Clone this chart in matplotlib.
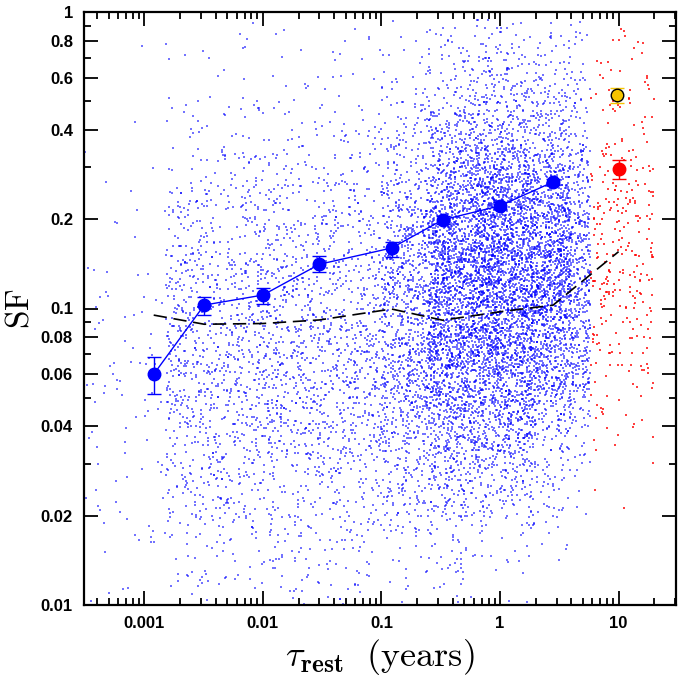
import numpy as np
import matplotlib
matplotlib.use("Agg")
import matplotlib.pyplot as plt
from matplotlib.ticker import FixedLocator, FixedFormatter, NullFormatter

plt.rcParams['mathtext.fontset'] = 'cm'
plt.rcParams['font.family'] = ['Liberation Sans', 'DejaVu Sans']

# ---- binned structure function (blue) ----
tau_bin = [0.0012, 0.0032, 0.010, 0.030, 0.122, 0.328, 1.0, 2.80]
sf_bin = [0.060, 0.1027, 0.111, 0.141, 0.160, 0.199, 0.222, 0.267]
sf_lo = [0.0516, 0.0953, 0.1033, 0.1324, 0.1496, 0.193, 0.216, 0.260]
sf_hi = [0.0684, 0.109, 0.1175, 0.1507, 0.168, 0.205, 0.228, 0.274]

# ---- noise level (dashed) ----
tau_noise = [0.0012, 0.0032, 0.010, 0.030, 0.122, 0.328, 1.0, 2.80, 10.0]
sf_noise = [0.095, 0.0885, 0.089, 0.0915, 0.0996, 0.0913, 0.0975, 0.1026, 0.1555]

# ---- long-baseline points ----
tau_yellow = [9.7]
sf_yellow = [0.525]
sf_yellow_lo = [0.492]
sf_yellow_hi = [0.555]
tau_red = [10.0]
sf_red = [0.2947]
sf_red_lo = [0.2735]
sf_red_hi = [0.317]

# ---- individual pair cloud: the single points cannot be read one by one,
# so the cloud is described by density per log-tau bin:
# bin edges (tau), number of dots, median SF and spread (dex) of log SF.
cloud_edges_blue = [0.0003, 0.0015, 0.01, 0.1, 0.25, 0.6, 2.0, 4.0, 5.8]
cloud_count_blue = [100, 1050, 1400, 1100, 2200, 3400, 1500, 450]
cloud_med_blue = [0.055, 0.07, 0.075, 0.09, 0.11, 0.12, 0.13, 0.13]
cloud_sig_blue = [0.45, 0.40, 0.42, 0.40, 0.38, 0.36, 0.33, 0.33]
cloud_edges_red = [5.8, 20.0]
cloud_count_red = [320]
cloud_med_red = [0.18]
cloud_sig_red = [0.36]


def make_cloud(edges, counts, meds, sigs, seed):
    rng = np.random.default_rng(seed)
    xs, ys = [], []
    for i, n in enumerate(counts):
        lx = rng.uniform(np.log10(edges[i]), np.log10(edges[i + 1]), n)
        ly = rng.normal(np.log10(meds[i]), sigs[i], n)
        xs.append(10 ** lx)
        ys.append(10 ** ly)
    x = np.concatenate(xs)
    y = np.concatenate(ys)
    keep = (y < 0.95) & (y > 0.008)
    return x[keep], y[keep]


fig = plt.figure(figsize=(6.78, 6.79), dpi=100)
ax = fig.add_axes([84 / 678, 74 / 679, 592 / 678, 593 / 679])

bx, by = make_cloud(cloud_edges_blue, cloud_count_blue, cloud_med_blue, cloud_sig_blue, 1)
rx, ry = make_cloud(cloud_edges_red, cloud_count_red, cloud_med_red, cloud_sig_red, 2)
ax.scatter(bx, by, s=1.1, marker='s', color='#0000ff', alpha=0.55, linewidths=0, zorder=1)
ax.scatter(rx, ry, s=1.1, marker='s', color='#ff0000', alpha=0.75, linewidths=0, zorder=1)

ax.plot(tau_noise, sf_noise, color='black', lw=1.2, dashes=(8, 4), zorder=3)

yerr = [np.array(sf_bin) - np.array(sf_lo), np.array(sf_hi) - np.array(sf_bin)]
ax.errorbar(tau_bin, sf_bin, yerr=yerr, color='#0000ff', lw=1.0, marker='o', ms=9,
            mec='#0000ff', mfc='#0000ff', capsize=5, capthick=1.0, elinewidth=1.0, zorder=4)

ax.errorbar(tau_red, sf_red,
            yerr=[[sf_red[0] - sf_red_lo[0]], [sf_red_hi[0] - sf_red[0]]],
            color='#ff0000', marker='o', ms=9, capsize=5, lw=1.0, ls='none', zorder=4)
ax.errorbar(tau_yellow, sf_yellow,
            yerr=[[sf_yellow[0] - sf_yellow_lo[0]], [sf_yellow_hi[0] - sf_yellow[0]]],
            color='#f5c400', ecolor='#f5c400', marker='o', ms=9, mfc='#f5c400', mec='black',
            mew=1.0, capsize=5, lw=1.0, ls='none', zorder=4)

ax.set_xscale('log')
ax.set_yscale('log')
ax.set_xlim(3.1e-4, 30.5)
ax.set_ylim(0.01, 1.0)

ymaj = [0.01, 0.02, 0.04, 0.06, 0.08, 0.1, 0.2, 0.4, 0.6, 0.8, 1.0]
ylab = ['0.01', '0.02', '0.04', '0.06', '0.08', '0.1', '0.2', '0.4', '0.6', '0.8', '1']
ymin = [0.03, 0.05, 0.07, 0.09, 0.3, 0.5, 0.7, 0.9]
ax.yaxis.set_major_locator(FixedLocator(ymaj))
ax.yaxis.set_major_formatter(FixedFormatter(ylab))
ax.yaxis.set_minor_locator(FixedLocator(ymin))
ax.yaxis.set_minor_formatter(NullFormatter())

xmaj = [0.001, 0.01, 0.1, 1, 10]
xlab = ['0.001', '0.01', '0.1', '1', '10']
xmin = [m * 10.0 ** e for e in range(-4, 2) for m in range(2, 10)]
ax.xaxis.set_major_locator(FixedLocator(xmaj))
ax.xaxis.set_major_formatter(FixedFormatter(xlab))
ax.xaxis.set_minor_locator(FixedLocator(xmin))
ax.xaxis.set_minor_formatter(NullFormatter())

ax.tick_params(which='both', direction='in', top=True, right=True, width=1.3)
ax.tick_params(which='major', length=10, labelsize=12, pad=8)
ax.tick_params(which='minor', length=5)
for lab in ax.get_xticklabels() + ax.get_yticklabels():
    lab.set_fontweight('bold')
for sp in ax.spines.values():
    sp.set_linewidth(1.6)

ax.set_ylabel(r'$\mathrm{SF}$', fontsize=24, labelpad=4)
ax.set_xlabel(r'$\tau_{\mathbf{rest}}\ \ (\mathrm{years})$', fontsize=26, labelpad=4)

fig.savefig('out.png', dpi=100)
